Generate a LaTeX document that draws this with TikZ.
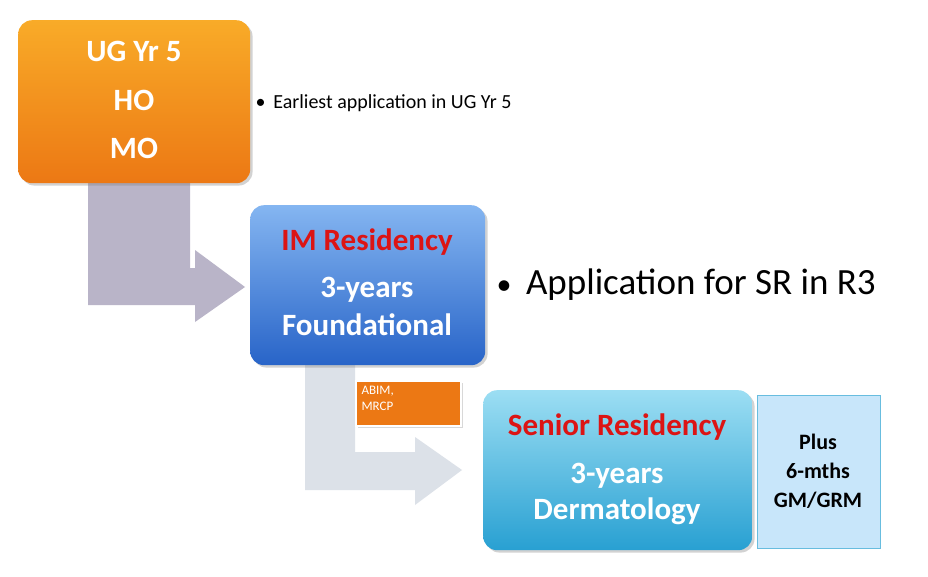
\documentclass[tikz,border=0pt]{standalone}
\usepackage{fontspec}
\setmainfont{Carlito}
\usetikzlibrary{shadows}
\definecolor{org}{RGB}{247,150,50}
\definecolor{orgd}{RGB}{236,120,20}
\definecolor{blu}{RGB}{80,150,235}
\definecolor{blud}{RGB}{40,100,200}
\definecolor{cya}{RGB}{90,200,235}
\definecolor{cyad}{RGB}{40,160,210}
\definecolor{lblu}{RGB}{200,230,250}
\definecolor{gry1}{RGB}{185,180,200}
\definecolor{gry2}{RGB}{220,225,232}
\definecolor{redt}{RGB}{220,20,20}
\begin{document}
\begin{tikzpicture}[x=1pt,y=-1pt,
  bigbox/.style={rounded corners=14pt,drop shadow={opacity=0.35}},
  wt/.style={text=white,font=\bfseries\fontsize{31}{36}\selectfont},
  rt/.style={text=redt,font=\bfseries\fontsize{31}{36}\selectfont}]
\useasboundingbox[fill=white] (0,0) rectangle (928,577);
% arrows
\fill[gry1] (88,183) -- (190,183) -- (190,268) -- (195,268) -- (195,250) -- (245,287) -- (195,322) -- (195,305) -- (88,305) -- cycle;
\fill[gry2] (305,365) -- (355,365) -- (355,452) -- (415,452) -- (415,437) -- (462,470) -- (415,505) -- (415,490) -- (305,490) -- cycle;
% boxes
\node[bigbox,top color=org!80!yellow,bottom color=orgd,minimum width=232pt,minimum height=163pt,anchor=north west] (ug) at (18,20) {};
\node[wt] (ug1) at (134,51) {UG Yr 5};
\node[wt] (ug2) at (134,100) {HO};
\node[wt] (ug3) at (134,148) {MO};
\node[anchor=west,font=\fontsize{20}{24}\selectfont] (e) at (252,103) {•\, Earliest application in UG Yr 5};
\node[bigbox,top color=blu!70!white,bottom color=blud,minimum width=235pt,minimum height=160pt,anchor=north west] (im) at (250,205) {};
\node[rt] (im1) at (367,242) {IM Residency};
\node[wt] (im2) at (367,290) {3-years};
\node[wt] (im3) at (367,325) {Foundational};
\node[anchor=west,font=\fontsize{37}{42}\selectfont] (a) at (493,285) {{\fontsize{30}{30}\selectfont•}\, Application for SR in R3};
\node[fill=orgd,draw=white,line width=1.5pt,drop shadow={opacity=0.3},minimum width=105pt,minimum height=45pt,anchor=north west] (ab) at (355,380) {};
\node[anchor=north west,align=left,text=white,font=\fontsize{13}{16}\selectfont] (abt) at (358,383) {ABIM,\\MRCP};
\node[bigbox,top color=cya!60!white,bottom color=cyad,minimum width=269pt,minimum height=160pt,anchor=north west] (sr) at (483,390) {};
\node[rt] (sr1) at (617,427) {Senior Residency};
\node[wt] (sr2) at (617,476) {3-years};
\node[wt] (sr3) at (617,511) {Dermatology};
\node[fill=lblu,draw=cyad!70,minimum width=123pt,minimum height=153pt,anchor=north west] (pl) at (757,395) {};
\node[align=center,font=\bfseries\fontsize{22}{29}\selectfont] (plt) at (818,471) {Plus\\6-mths\\GM/GRM};
\end{tikzpicture}
\end{document}
